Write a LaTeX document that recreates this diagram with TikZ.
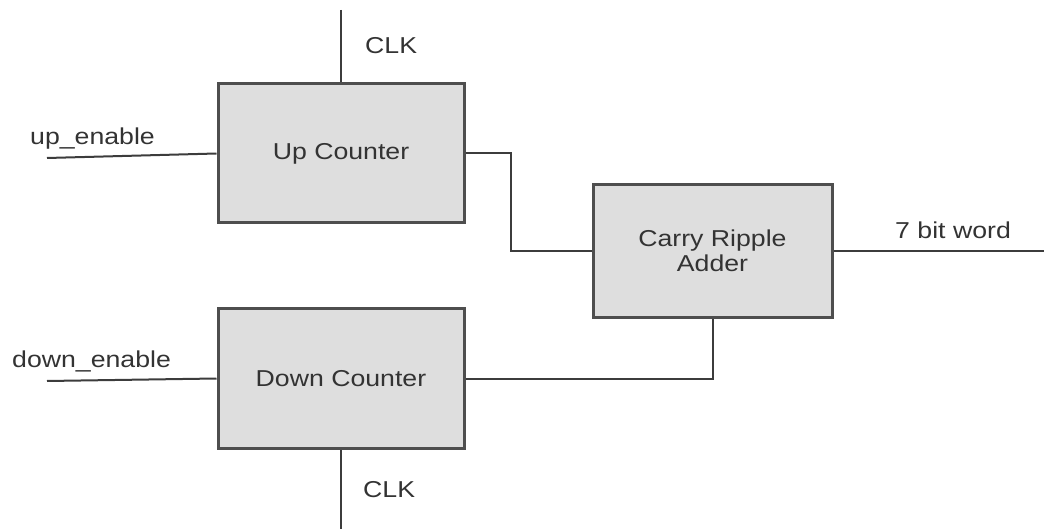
\documentclass[tikz,border=0pt]{standalone}
\usepackage{fontspec}
\setmainfont{Liberation Sans}[FakeStretch=1.16]
\usepackage{tikz}
\usetikzlibrary{positioning,calc}
\definecolor{blkfill}{HTML}{DEDEDE}
\definecolor{blkline}{HTML}{4E4E4E}
\definecolor{wirecol}{HTML}{3C3C3C}
\definecolor{txtcol}{HTML}{333333}
\newcommand{\cntFont}{\fontsize{23}{25}\selectfont}
\tikzset{
  %% functional blocks: flat grey, heavy grey rule
  cntblock/.style={
    rectangle, draw=blkline, line width=3pt, fill=blkfill,
    inner sep=0pt, align=center, font=\cntFont, text=txtcol},
  %% plain signal wires, no arrow tips
  cntwire/.style={draw=wirecol, line width=2pt},
  cntlbl/.style={font=\cntFont, text=txtcol, inner sep=0pt,
    anchor=base west},
}

\begin{document}
\begin{tikzpicture}[x=1pt,y=-1pt]

\useasboundingbox (0,0) rectangle (1044,529);

%% --- counters (left column) ---------------------------------------
\node[cntblock, minimum width=246pt, minimum height=139pt] (up)
  at (341,153.5) {Up Counter};

\node[cntblock, minimum width=246pt, minimum height=139pt,
      below=83pt of up] (down) {Down Counter};

%% --- adder (right) ------------------------------------------------
\node[cntblock, minimum width=239pt, minimum height=133pt] (adder)
  at (712.5,251) {Carry Ripple\\Adder};

%% --- free wire ends -----------------------------------------------
\coordinate (upen)    at (47,158);
\coordinate (downen)  at (47,381);
\coordinate (clkup)   at (341,10);
\coordinate (clkdown) at (341,529);
\coordinate (wordout) at (1044,251);

%% --- wires --------------------------------------------------------
\draw[cntwire] (upen)   -- (up.west);
\draw[cntwire] (downen) -- (down.west);
\draw[cntwire] (clkup)   -- (up.north);
\draw[cntwire] (clkdown) -- (down.south);

\draw[cntwire] (up.east) -- ++(45,0) |- (adder.west);
\draw[cntwire] (down.east) -| (adder.south);
\draw[cntwire] (adder.east) -- (wordout);

%% --- signal names -------------------------------------------------
\node[cntlbl] (lblupen)    at (30,145)  {up\_enable};
\node[cntlbl] (lbldownen)  at (12,367)  {down\_enable};
\node[cntlbl] (lblclkup)   at (365,54)  {CLK};
\node[cntlbl] (lblclkdown) at (363,497) {CLK};
\node[cntlbl] (lblword)    at (895,239) {7 bit word};

\end{tikzpicture}
\end{document}
